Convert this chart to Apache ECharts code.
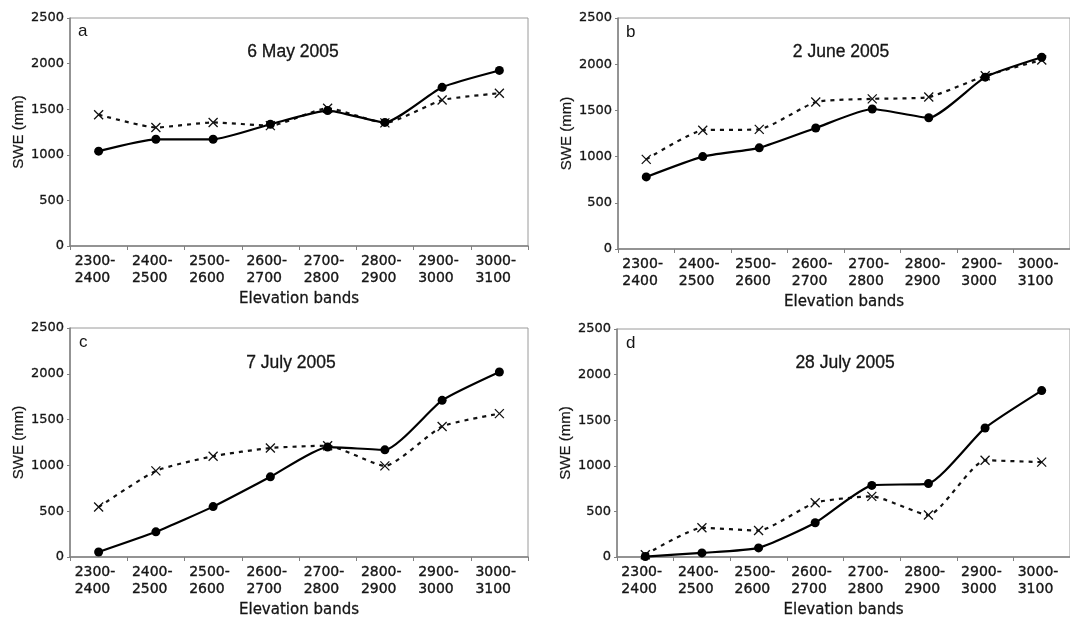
<!DOCTYPE html>
<html>
<head>
<meta charset="utf-8">
<script src="https://cdn.jsdelivr.net/npm/echarts@6/dist/echarts.min.js"></script>
<style>
html,body{margin:0;padding:0;background:#fff;}
#chart{width:1070px;height:622px;}
</style>
</head>
<body>
<div id="chart"></div>
<script>
// ---- data ----
const categories = ['2300-2400','2400-2500','2500-2600','2600-2700','2700-2800','2800-2900','2900-3000','3000-3100'];
const yTicks = [0, 500, 1000, 1500, 2000, 2500];
const panelLetters = ['a','b','c','d'];
const panelDates = ['6 May 2005','2 June 2005','7 July 2005','28 July 2005'];
const solidA  = [1040, 1170, 1170, 1335, 1485, 1355, 1740, 1925];
const dashedA = [1440, 1300, 1355, 1320, 1510, 1350, 1600, 1675];
const solidB  = [780, 1000, 1095, 1310, 1515, 1420, 1860, 2075];
const dashedB = [970, 1285, 1295, 1590, 1625, 1645, 1875, 2045];
const solidC  = [55, 275, 550, 875, 1200, 1170, 1710, 2020];
const dashedC = [545, 940, 1100, 1190, 1215, 995, 1425, 1565];
const solidD  = [5, 45, 100, 375, 785, 805, 1415, 1825];
const dashedD = [25, 320, 290, 595, 665, 460, 1060, 1040];
const yAxisName = 'SWE (mm)';
const xAxisName = 'Elevation bands';

const solids = [solidA, solidB, solidC, solidD];
const dasheds = [dashedA, dashedB, dashedC, dashedD];

// ---- layout ----
const grids = [
  {left: 70,  top: 18,  width: 458, height: 228},
  {left: 618, top: 18,  width: 457, height: 231},
  {left: 70,  top: 328, width: 458, height: 229},
  {left: 617, top: 329, width: 458, height: 228}
];
const letterPos = [[78, 23], [626, 24], [79, 334], [626, 335]];
const datePos = [[293, 43], [841, 43], [291, 354], [845, 354]];
const txt = '#151515';

const chart = echarts.init(document.getElementById('chart'));
const option = {
  backgroundColor: '#fff',
  animation: false,
  title: [],
  grid: [],
  xAxis: [],
  yAxis: [],
  series: []
};

grids.forEach((g, i) => {
  option.grid.push(Object.assign({show: true, borderColor: '#9a9a9a', borderWidth: 1, backgroundColor: 'transparent'}, g));
  option.title.push({
    text: panelLetters[i], left: letterPos[i][0], top: letterPos[i][1], padding: 0,
    textStyle: {fontFamily: 'Liberation Sans', fontSize: 17, fontWeight: 'normal', color: txt}
  });
  option.title.push({
    text: panelDates[i], left: datePos[i][0], top: datePos[i][1], padding: 0, textAlign: 'center',
    textStyle: {fontFamily: 'Liberation Sans', fontSize: 17.5, fontWeight: 'normal', color: txt,
      textBorderColor: txt, textBorderWidth: 0.3}
  });
  option.xAxis.push({
    type: 'category', gridIndex: i, data: categories, boundaryGap: true,
    name: xAxisName, nameLocation: 'middle', nameGap: 46,
    nameTextStyle: {fontFamily: 'DejaVu Sans', fontSize: 15, color: txt, textBorderColor: txt, textBorderWidth: 0.3},
    axisLine: {show: true, lineStyle: {color: '#808080', width: 1.5}},
    axisTick: {show: true, length: 4, inside: false, lineStyle: {color: '#808080'}},
    axisLabel: {
      interval: 0, margin: 7,
      formatter: function (v) {
        const p = v.split('-');
        return '{t|' + p[0] + '-}\n{t|' + p[1] + '}';
      },
      rich: {t: {fontFamily: 'DejaVu Sans', fontSize: 14, color: txt, width: 48, align: 'left', lineHeight: 17,
        textBorderColor: txt, textBorderWidth: 0.35}}
    },
    splitLine: {show: false}
  });
  option.yAxis.push({
    type: 'value', gridIndex: i, min: yTicks[0], max: yTicks[yTicks.length - 1], interval: 500,
    name: yAxisName, nameLocation: 'middle', nameGap: 42, nameRotate: 90,
    nameTextStyle: {fontFamily: 'Liberation Sans', fontSize: 15, color: txt, textBorderColor: txt, textBorderWidth: 0.2},
    axisLine: {show: true, lineStyle: {color: '#808080', width: 1.5}},
    axisTick: {show: true, length: 3, lineStyle: {color: '#808080'}},
    axisLabel: {margin: 6, fontFamily: 'DejaVu Sans', fontSize: 13, color: txt,
      textBorderColor: txt, textBorderWidth: 0.3,
      formatter: function (v) { return String(v); }},
    splitLine: {show: false}
  });
  option.series.push({
    type: 'line', xAxisIndex: i, yAxisIndex: i, data: dasheds[i],
    smooth: 0.18,
    symbol: 'path://M0 0L10 10M10 0L0 10', symbolSize: 9,
    itemStyle: {color: 'rgba(0,0,0,0)', borderColor: '#111', borderWidth: 1.3},
    lineStyle: {color: '#111', width: 2.2, type: [4, 5]},
    z: 2
  });
  option.series.push({
    type: 'line', xAxisIndex: i, yAxisIndex: i, data: solids[i],
    smooth: 0.18,
    symbol: 'circle', symbolSize: 9,
    itemStyle: {color: '#000'},
    lineStyle: {color: '#000', width: 2.2, type: 'solid'},
    z: 3
  });
});

chart.setOption(option);
</script>
</body>
</html>
